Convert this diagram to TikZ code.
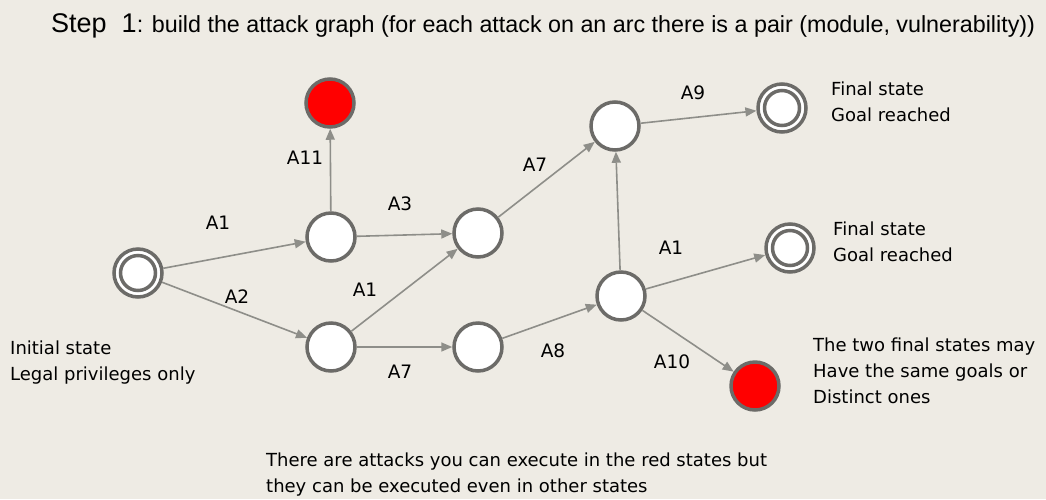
\documentclass[tikz,border=0pt]{standalone}
\usepackage{fontspec}
\setmainfont{DejaVu Sans}
\newfontfamily\titlefont{Liberation Sans}
\usetikzlibrary{arrows.meta}
\definecolor{bg}{RGB}{238,235,228}
\definecolor{ring}{RGB}{108,107,104}
\definecolor{edgec}{RGB}{142,142,137}
\definecolor{redstate}{RGB}{255,0,0}
\tikzset{
  state/.style={circle, draw=ring, line width=3.5pt, fill=white, minimum size=48pt, inner sep=0pt},
  redst/.style={state, fill=redstate},
  finalst/.style={state, path picture={\draw[ring, line width=3.5pt] (path picture bounding box.center) circle (17.5pt);}},
  arc/.style={draw=edgec, line width=1.6pt, -{Triangle[length=11pt,width=9pt]}},
  lbl/.style={font=\fontsize{18.5}{18.5}\selectfont, inner sep=0pt},
  note/.style={font=\fontsize{18}{26}\selectfont, align=left, anchor=base west, inner sep=0pt},
}
\begin{document}
\begin{tikzpicture}[x=1pt, y=-1pt]
\fill[bg] (0,0) rectangle (1046,499);
\useasboundingbox (0,0) rectangle (1046,499);

\node[anchor=base west, inner sep=0pt] (title) at (51,32)
  {\titlefont\fontsize{27}{27}\selectfont Step\ \ 1\fontsize{23.3}{23.3}\selectfont : build the attack graph (for each attack on an arc there is a pair (module, vulnerability))};

\node[finalst] (init) at (138,273) {};
\node[state] (n1) at (331,237) {};
\node[redst] (r1) at (330,103) {};
\node[state] (n2) at (331,347) {};
\node[state] (n3) at (478,233) {};
\node[state] (n4) at (478,347) {};
\node[state] (n5) at (615,126) {};
\node[state] (n6) at (621,296) {};
\node[finalst] (f1) at (782,108) {};
\node[finalst] (f2) at (790,248) {};
\node[redst] (r2) at (755,386) {};

\draw[arc] (init) -- (n1);
\draw[arc] (init) -- (n2);
\draw[arc] (n1) -- (r1);
\draw[arc] (n1) -- (n3);
\draw[arc] (n2) -- (n3);
\draw[arc] (n2) -- (n4);
\draw[arc] (n3) -- (n5);
\draw[arc] (n4) -- (n6);
\draw[arc] (n6) -- (n5);
\draw[arc] (n5) -- (f1);
\draw[arc] (n6) -- (f2);
\draw[arc] (n6) -- (r2);

\node[lbl] (l1) at (218,223) {A1};
\node[lbl] (l2) at (237,297) {A2};
\node[lbl] (l3) at (365,290) {A1};
\node[lbl] (l4) at (305,158) {A11};
\node[lbl] (l5) at (400,204) {A3};
\node[lbl] (l6) at (535,165) {A7};
\node[lbl] (l7) at (400,372) {A7};
\node[lbl] (l8) at (553,351) {A8};
\node[lbl] (l9) at (693,93) {A9};
\node[lbl] (l10) at (671,248) {A1};
\node[lbl] (l11) at (672,362) {A10};

\node[note] (t1) at (831,121) {Final state\\Goal reached};
\node[note] (t2) at (833,261) {Final state\\Goal reached};
\node[note] (t3) at (10,380) {Initial state\\Legal privileges only};
\node[note] (t4) at (813,403) {The two final states may\\Have the same goals or\\Distinct ones};
\node[note] (t5) at (266,492) {There are attacks you can execute in the red states but\\they can be executed even in other states};
\end{tikzpicture}
\end{document}
